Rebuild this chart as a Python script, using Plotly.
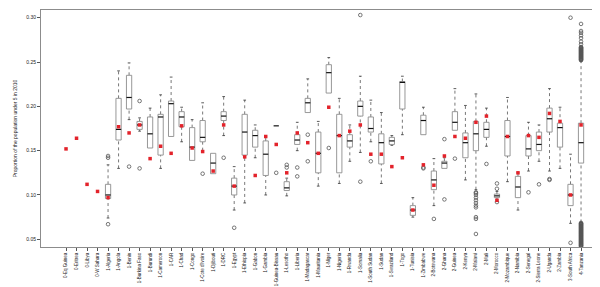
import plotly.graph_objects as go

names = ["0-Eq Guinea", "0-Eritrea", "0-Libya", "0-W Sahara", "1-Algeria", "1-Angola", "1-Benin",
         "1-Burkina Faso", "1-Burundi", "1-Cameroon", "1-CAR", "1-Chad", "1-Congo", "1-Cote d'Ivoire",
         "1-Djibouti", "1-DRC", "1-Egypt", "1-Ethiopia", "1-Gabon", "1-Gambia", "1-Guinea-Bissau",
         "1-Lesotho", "1-Liberia", "1-Madagascar", "1-Mauritania", "1-Niger", "1-Nigeria", "1-Rwanda",
         "1-Somalia", "1-South Sudan", "1-Sudan", "1-Swaziland", "1-Togo", "1-Tunisia", "1-Zimbabwe",
         "2-Botswana", "2-Ghana", "2-Guinea", "2-Kenya", "2-Malawi", "2-Mali", "2-Morocco",
         "2-Mozambique", "2-Namibia", "2-Senegal", "2-Sierra Leone", "2-Uganda", "2-Zambia",
         "3-South Africa", "4-Tanzania"]

N = None
whisker_low = [N, N, N, N, 0.074, 0.130, 0.185, 0.172, 0.153, 0.130, 0.166, 0.160, 0.139, 0.150,
               0.124, 0.167, 0.083, 0.091, 0.142, 0.100, 0.178, 0.099, 0.150, 0.193, 0.110, 0.215,
               0.113, 0.138, 0.148, 0.160, 0.113, 0.156, 0.168, 0.075, 0.168, 0.088, 0.130, 0.173,
               0.117, 0.106, 0.155, 0.095, 0.115, 0.083, 0.127, 0.138, 0.127, 0.130, 0.068, 0.069]
q1 = [N, N, N, N, 0.096, 0.162, 0.197, 0.174, 0.153, 0.145, 0.166, 0.177, 0.139, 0.160,
      0.124, 0.184, 0.100, 0.145, 0.154, 0.122, 0.178, 0.105, 0.157, 0.193, 0.125, 0.215,
      0.125, 0.154, 0.189, 0.171, 0.135, 0.157, 0.197, 0.077, 0.168, 0.106, 0.130, 0.173,
      0.142, 0.150, 0.165, 0.097, 0.144, 0.097, 0.144, 0.150, 0.171, 0.154, 0.088, 0.136]
median = [N, N, N, N, 0.100, 0.174, 0.210, 0.179, 0.169, 0.188, 0.203, 0.188, 0.154, 0.165,
          0.136, 0.189, 0.110, 0.171, 0.167, 0.146, 0.178, 0.108, 0.162, 0.204, 0.147, 0.238,
          0.167, 0.161, 0.200, 0.175, 0.159, 0.161, 0.227, 0.083, 0.184, 0.117, 0.136, 0.182,
          0.159, 0.169, 0.174, 0.099, 0.166, 0.109, 0.152, 0.157, 0.186, 0.176, 0.100, 0.159]
q3 = [N, N, N, N, 0.112, 0.209, 0.235, 0.183, 0.188, 0.191, 0.206, 0.194, 0.176, 0.184,
      0.147, 0.194, 0.119, 0.191, 0.173, 0.161, 0.178, 0.115, 0.168, 0.209, 0.171, 0.247,
      0.191, 0.168, 0.206, 0.188, 0.169, 0.165, 0.228, 0.088, 0.190, 0.127, 0.138, 0.194,
      0.170, 0.183, 0.182, 0.101, 0.184, 0.121, 0.167, 0.171, 0.198, 0.181, 0.112, 0.181]
whisker_high = [N, N, N, N, 0.134, 0.240, 0.249, 0.187, 0.198, 0.213, 0.233, 0.199, 0.185, 0.204,
                0.147, 0.211, 0.132, 0.207, 0.179, 0.166, 0.178, 0.119, 0.182, 0.231, 0.183, 0.255,
                0.209, 0.179, 0.234, 0.207, 0.193, 0.167, 0.234, 0.097, 0.199, 0.141, 0.142, 0.220,
                0.201, 0.214, 0.198, 0.104, 0.210, 0.125, 0.182, 0.179, 0.220, 0.199, 0.146, 0.251]
red_value = [0.152, 0.164, 0.112, 0.104, 0.097, 0.177, 0.170, 0.179, 0.141, 0.155, 0.147, 0.178,
             0.153, 0.149, 0.127, 0.179, 0.110, 0.143, 0.122, 0.166, 0.157, 0.125, 0.170, 0.159,
             0.147, 0.199, 0.167, 0.172, 0.179, 0.146, 0.146, 0.132, 0.142, 0.083, 0.134, 0.111,
             0.144, 0.166, 0.164, 0.182, 0.189, 0.094, 0.166, 0.125, 0.167, 0.165, 0.192, 0.183,
             0.100, 0.179]
outliers = [[], [], [], [], [0.144, 0.142, 0.067], [], [0.132], [0.206, 0.130], [], [], [], [], [],
            [0.124], [], [0.142], [0.063], [], [], [], [0.125], [0.134, 0.131], [0.131, 0.121],
            [0.168, 0.138], [], [0.153], [], [], [0.303, 0.115], [0.138], [], [], [], [],
            [0.131, 0.130], [0.073], [0.163, 0.095], [0.141], [],
            [0.103, 0.102, 0.100, 0.097, 0.094, 0.091, 0.088, 0.086, 0.075, 0.073, 0.056],
            [0.135], [0.113, 0.107, 0.092], [], [], [0.103], [0.112], [0.118, 0.117], [],
            [0.300, 0.046],
            [0.293, 0.285, 0.283, 0.280, 0.277, 0.273, 0.270, 0.267, 0.2665, 0.266, 0.2655, 0.265,
             0.2645, 0.264, 0.2635, 0.263, 0.2625, 0.262, 0.2615, 0.261, 0.2605, 0.260, 0.2595,
             0.259, 0.2585, 0.258, 0.2575, 0.257, 0.2565, 0.256, 0.2555, 0.255, 0.2545, 0.254,
             0.2535, 0.253, 0.2525, 0.252,
             0.0685, 0.068, 0.0675, 0.067, 0.0665, 0.066, 0.0655, 0.065, 0.0645, 0.064, 0.0635,
             0.063, 0.0625, 0.062, 0.0615, 0.061, 0.0605, 0.060, 0.0595, 0.059, 0.0585, 0.058,
             0.0575, 0.057, 0.0565, 0.056, 0.0555, 0.055, 0.0545, 0.054, 0.0535, 0.053, 0.0525,
             0.052, 0.0515, 0.051, 0.0505, 0.050, 0.0495, 0.049, 0.0485, 0.048, 0.0475, 0.047,
             0.0465, 0.046, 0.0455, 0.045, 0.0445, 0.044, 0.0435, 0.043, 0.0425, 0.042]]

y_ticks = [0.05, 0.10, 0.15, 0.20, 0.25, 0.30]
y_labels = ["0.05", "0.10", "0.15", "0.20", "0.25", "0.30"]

pos = list(range(1, len(names) + 1))
HW = 0.25   # half box width (axis units)
SW = 0.13   # half staple width

bx, by, mx, my, wx, wy, sx, sy = [], [], [], [], [], [], [], []
for i, p in enumerate(pos):
    if q1[i] is None:
        continue
    if q3[i] > q1[i]:
        bx += [p - HW, p + HW, p + HW, p - HW, p - HW, None]
        by += [q1[i], q1[i], q3[i], q3[i], q1[i], None]
    mx += [p - HW, p + HW, None]
    my += [median[i], median[i], None]
    if whisker_high[i] > q3[i]:
        wx += [p, p, None]
        wy += [q3[i], whisker_high[i], None]
        sx += [p - SW, p + SW, None]
        sy += [whisker_high[i], whisker_high[i], None]
    if whisker_low[i] < q1[i]:
        wx += [p, p, None]
        wy += [whisker_low[i], q1[i], None]
        sx += [p - SW, p + SW, None]
        sy += [whisker_low[i], whisker_low[i], None]

ox, oy = [], []
for i, p in enumerate(pos):
    for v in outliers[i]:
        ox.append(p)
        oy.append(v)

fig = go.Figure()
fig.add_trace(go.Scatter(x=wx, y=wy, mode="lines", line=dict(color="#555555", width=0.8, dash="dot"),
                         hoverinfo="skip"))
fig.add_trace(go.Scatter(x=sx, y=sy, mode="lines", line=dict(color="#333333", width=0.8),
                         hoverinfo="skip"))
fig.add_trace(go.Scatter(x=bx, y=by, mode="lines", fill="toself", fillcolor="white",
                         line=dict(color="#8c8c8c", width=0.9), hoverinfo="skip"))
fig.add_trace(go.Scatter(x=mx, y=my, mode="lines", line=dict(color="#111111", width=1.2),
                         hoverinfo="skip"))
fig.add_trace(go.Scatter(x=ox, y=oy, mode="markers",
                         marker=dict(symbol="circle-open", size=3.6, color="#555555",
                                     line=dict(width=0.8, color="#555555"))))
fig.add_trace(go.Scatter(x=pos, y=red_value, mode="markers",
                         marker=dict(symbol="square", size=3.5, color="#e3232b")))

font = "Liberation Sans, Arial, sans-serif"
fig.update_layout(
    width=600, height=287,
    margin=dict(l=33, r=3, t=2, b=48),
    plot_bgcolor="white", paper_bgcolor="white",
    showlegend=False,
    font=dict(family=font, size=5, color="#222222"),
)
fig.update_xaxes(range=[-1.38, 52.28], tickmode="array", tickvals=pos, ticktext=names,
                 tickangle=-90, ticks="outside", ticklen=3, tickwidth=0.7, tickcolor="#555555",
                 tickfont=dict(size=4.5, family=font, color="#222222"),
                 showline=True, linecolor="#8c8c8c", linewidth=0.9, mirror=True,
                 showgrid=False, zeroline=False)
fig.update_yaxes(range=[0.0413, 0.3087], tickmode="array", tickvals=y_ticks, ticktext=y_labels,
                 ticks="outside", ticklen=3, tickwidth=0.7, tickcolor="#555555",
                 tickfont=dict(size=5, family=font, color="#222222"),
                 showline=True, linecolor="#8c8c8c", linewidth=0.9, mirror=True,
                 showgrid=False, zeroline=False,
                 title=dict(text="Proportion of the population under 5 in 2010",
                            font=dict(size=5, family=font, color="#222222"), standoff=8))

fig.write_html("out.html")
